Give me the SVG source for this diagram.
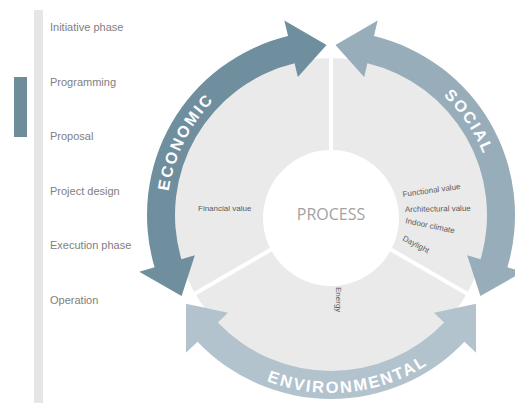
<svg xmlns="http://www.w3.org/2000/svg" width="515" height="403" viewBox="0 0 515 403">
<defs>
<style>
.phase{font-family:"Liberation Sans",Arial,sans-serif;font-size:11px;fill:#808080}
.lbl{font-family:"Liberation Sans",Arial,sans-serif;font-size:8px;fill:#5a5a5a}
.band{font-family:"Liberation Sans",Arial,sans-serif;font-weight:bold;font-size:16px;fill:#ffffff;letter-spacing:2px}
.sep{stroke:#ffffff;stroke-width:4;fill:none}
</style>
<path id="pEco" d="M174.17 262.95 A164 164 0 0 1 274.91 60.89"/>
<path id="pSoc" d="M387.09 60.89 A164 164 0 0 1 494.90 220.72"/>
<path id="pEnv" d="M202.96 338.65 A178 178 0 0 0 475.01 319.63"/>
</defs>
<rect width="515" height="403" fill="#ffffff"/>

<g id="timeline">
<rect x="34" y="10" width="9" height="393" fill="#e6e6e6"/>
<rect x="14" y="77" width="13" height="60" fill="#6f8c9a"/>
<text class="phase" x="50" y="31">Initiative phase</text>
<text class="phase" x="50" y="85.5">Programming</text>
<text class="phase" x="50" y="140">Proposal</text>
<text class="phase" x="50" y="194.5">Project design</text>
<text class="phase" x="50" y="249">Execution phase</text>
<text class="phase" x="50" y="303.5">Operation</text>
</g>

<g id="disk">
<circle cx="331" cy="215" r="157" fill="#eaeaea"/>
</g>

<g id="connectors">
<line class="sep" x1="331" y1="10" x2="331" y2="152"/>
<line class="sep" x1="272" y1="249" x2="184" y2="300"/>
<line class="sep" x1="390" y1="249" x2="478" y2="300"/>
</g>

<g id="process">
<circle cx="331" cy="218" r="68" fill="#ffffff"/>
<text x="331" y="219.5" text-anchor="middle" font-family="'Open Sans','Liberation Sans',sans-serif" font-size="16" fill="#a2a2a2">PROCESS</text>
</g>

<g id="economic">
<path d="M326.55 45.06 L284.31 20.53 L288.05 36.08 A184 184 0 0 0 154.58 267.26 L139.24 271.80 L181.60 296.12 L194.85 255.33 L181.42 259.31 A156 156 0 0 1 294.58 63.31 L297.85 76.92 Z" fill="#6f8e9e"/>
<text class="band"><textPath href="#pEco" startOffset="50%" text-anchor="middle">ECONOMIC</textPath></text>
<text class="lbl" x="198" y="211">Financial value</text>
</g>

<g id="social">
<path d="M335.45 45.06 L377.69 20.53 L373.95 36.08 A184 184 0 0 1 507.42 267.26 L522.76 271.80 L480.40 296.12 L467.15 255.33 L480.58 259.31 A156 156 0 0 0 367.42 63.31 L364.15 76.92 Z" fill="#98adba"/>
<text class="band"><textPath href="#pSoc" startOffset="50%" text-anchor="middle">SOCIAL</textPath></text>
<text class="lbl" x="403" y="197" transform="rotate(-8 403 197)">Functional value</text>
<text class="lbl" x="405" y="212" transform="rotate(-1 405 212)">Architectural value</text>
<text class="lbl" x="405" y="223" transform="rotate(12 405 223)">Indoor climate</text>
<text class="lbl" x="402" y="240" transform="rotate(28 402 240)">Daylight</text>
</g>

<g id="environmental">
<path d="M186.05 303.83 L185.93 352.67 L197.53 341.66 A184 184 0 0 0 464.47 341.66 L476.07 352.67 L475.95 303.83 L434.00 312.75 L444.16 322.38 A156 156 0 0 1 217.84 322.38 L228.00 312.75 Z" fill="#b2c3cd"/>
<text class="band" style="letter-spacing:2px;font-size:16.5px"><textPath href="#pEnv" startOffset="52%" text-anchor="middle">ENVIRONMENTAL</textPath></text>
<text class="lbl" x="336" y="287" transform="rotate(90 336 287)">Energy</text>
</g>
</svg>
